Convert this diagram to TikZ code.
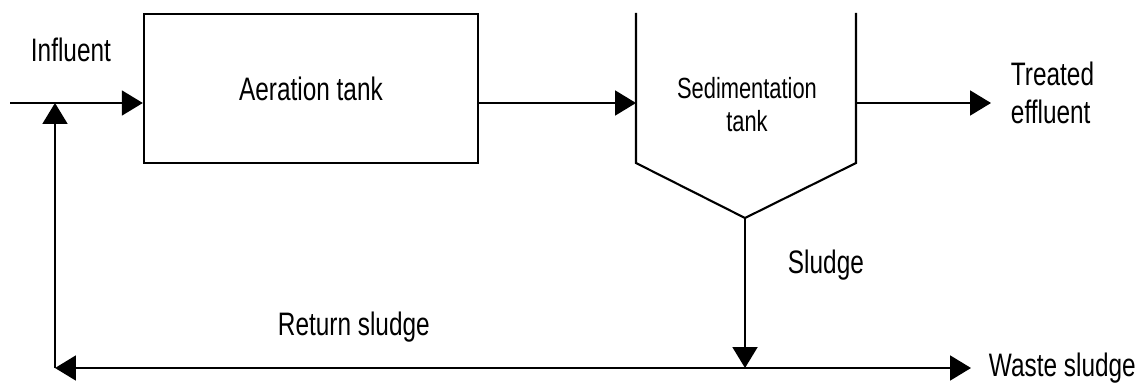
\documentclass[tikz,border=0pt]{standalone}
\usepackage{fontspec}
\setmainfont{Liberation Sans}
\newfontfamily\narrowsf[FakeStretch=0.75]{Liberation Sans}
\usetikzlibrary{arrows.meta,positioning}

\begin{document}
\begin{tikzpicture}[
        x=0.02cm, y=-0.02cm,
        line width=1.1pt,
        flow/.style = {-{Triangle[length=0.42cm,width=0.5cm]}},
        tank-box/.style = {draw, rectangle, minimum width=6.68cm, minimum height=2.98cm,
                           line width=1.4pt, text centered},
        lbl/.style = {inner sep=0pt, anchor=base west, align=left,
                      font=\narrowsf\fontsize{18.5}{21.5}\selectfont}
      ]
        \useasboundingbox (0,0) rectangle (1145,385);

        % aeration tank
        \node[tank-box, font=\narrowsf\fontsize{18.5}{21.5}\selectfont] (aer) at (311,88.5) {Aeration tank};

        % sedimentation tank with its hopper bottom
        \coordinate (sed-tl) at (636,13);
        \coordinate (sed-bl) at (636,163);
        \coordinate (sed-v)  at (745,218);
        \coordinate (sed-br) at (856,163);
        \coordinate (sed-tr) at (856,13);
        \draw[line width=1.2pt] (sed-tl) -- (sed-bl) -- (sed-v) -- (sed-br) -- (sed-tr);
        \node[inner sep=0pt, align=center, font=\narrowsf\fontsize{16.6}{18.8}\selectfont,
              anchor=base] (sed) at (747,132) {Sedimentation\\tank};

        % labels
        \node[lbl] (infl) at (30,62) {Influent};
        \node[lbl, font=\narrowsf\fontsize{18.5}{21.6}\selectfont] (eff) at (1010,123) {Treated\\effluent};
        \node[lbl] (sludge) at (787,273) {Sludge};
        \node[lbl] (ret) at (277,335) {Return sludge};
        \node[lbl] (waste) at (988,376) {Waste sludge};

        \coordinate (in) at (10,103);
        \coordinate (mix) at (55,103);
        \coordinate (corner) at (55,368);
        \coordinate (split) at (745,368);
        \coordinate (waste-end) at (971,368);
        \coordinate (eff-end) at (991,103);

        % main line
        \draw[flow] (in) -- (aer.west |- in);
        \draw[flow] (aer.east |- in) -- (sed-tl |- in);
        \draw[flow] (sed-tr |- in) -- (eff-end);

        % sludge line and return
        \draw[flow] (sed-v) -- (split);
        \draw[flow] (split) -- (waste-end);
        \draw[flow] (split) -- (corner);
        \draw[flow] (corner) -- (mix);
      \end{tikzpicture}
\end{document}
